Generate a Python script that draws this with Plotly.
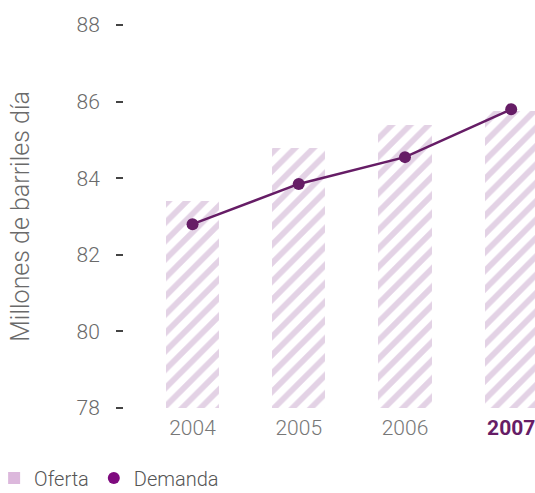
import plotly.graph_objects as go

# Data
years = ["2004", "2005", "2006", "2007"]
oferta = [83.4, 84.8, 85.4, 85.75]
demanda = [82.8, 83.85, 84.55, 85.8]
y_tick_vals = [78, 80, 82, 84, 86, 88]
x_tick_text = ["2004", "2005", "2006", "<b><span style='color:#661d66'>2007</span></b>"]

x_pos = list(range(len(years)))

HATCH = "#c8a6cc"
LINE = "#661d66"
LEG_CIRCLE = "#7e0a7e"
LEG_SQUARE = "#dcb8dc"
FONT = "Roboto"

fig = go.Figure()

fig.add_trace(go.Bar(
    x=x_pos, y=oferta, width=0.5,
    marker=dict(color="white", line=dict(width=0),
                pattern=dict(shape="/", fgcolor=HATCH, bgcolor="white",
                             size=13, solidity=0.45)),
    showlegend=False, hoverinfo="skip",
))

fig.add_trace(go.Scatter(
    x=x_pos, y=demanda, mode="lines+markers",
    line=dict(color=LINE, width=2.5),
    marker=dict(color=LINE, size=12),
    showlegend=False,
))

# legend entries
fig.add_trace(go.Scatter(
    x=[None], y=[None], mode="markers", name="Oferta",
    marker=dict(symbol="square", color=LEG_SQUARE, size=12),
))
fig.add_trace(go.Scatter(
    x=[None], y=[None], mode="markers", name="Demanda",
    marker=dict(symbol="circle", color=LEG_CIRCLE, size=12),
))

fig.update_layout(
    width=535, height=493,
    margin=dict(l=124, r=0, t=25, b=85, autoexpand=False),
    plot_bgcolor="white", paper_bgcolor="white",
    font=dict(family=FONT, size=20, color="#666666", weight=300),
    bargap=0,
    legend=dict(orientation="h", xref="paper", yref="paper",
                x=-0.316, y=-0.183, xanchor="left", yanchor="middle",
                font=dict(size=20, color="#555555"),
                itemwidth=30, traceorder="normal"),
)

fig.update_xaxes(
    range=[-0.645, 3.224], tickvals=x_pos, ticktext=x_tick_text,
    showgrid=False, zeroline=False, showline=False, ticks="",
    tickfont=dict(size=21, color="#777777"),
    ticklabelstandoff=5, ticklabeloverflow="allow",
    automargin=False,
)
fig.update_yaxes(
    range=[78, 88], tickvals=y_tick_vals,
    showgrid=False, zeroline=False, showline=False,
    ticks="outside", ticklen=7, tickwidth=1.5, tickcolor="#444444",
    ticklabelstandoff=12, ticklabeloverflow="allow",
    tickfont=dict(size=21, color="#6a6a6a"),
    title=dict(text="Millones de barriles día", font=dict(size=25, color="#6a6a6a"), standoff=39),
    automargin=False,
)

fig.write_html("out.html", config={"displayModeBar": False},
               post_script="document.body.style.margin='0px';")
